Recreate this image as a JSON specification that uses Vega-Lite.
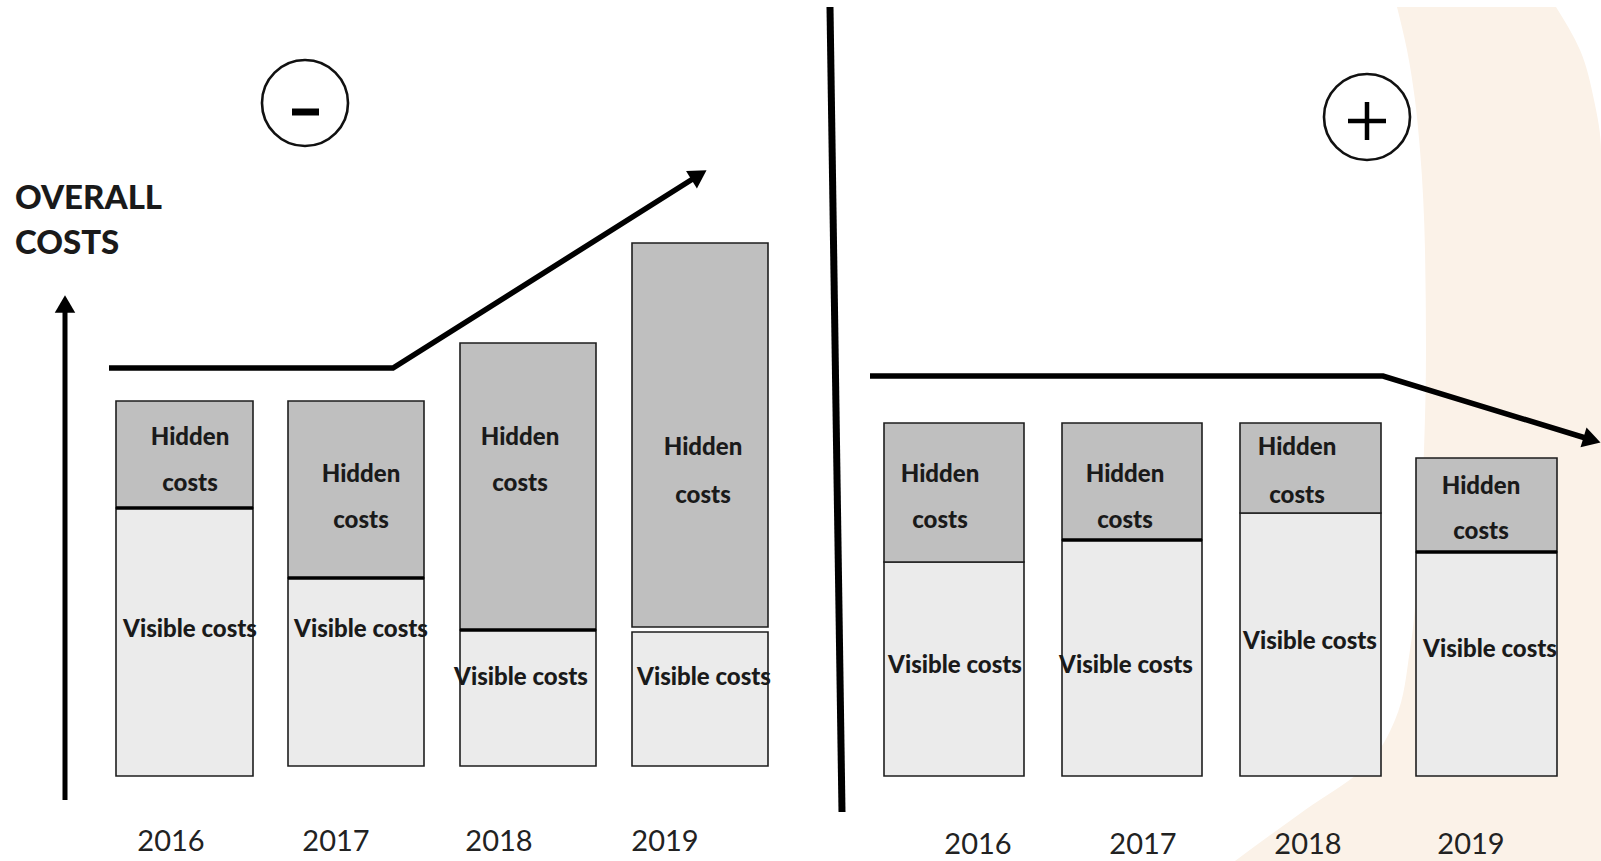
{
  "$schema": "https://vega.github.io/schema/vega-lite/v6.json",
  "width": 1601,
  "height": 861,
  "autosize": {"type": "fit", "contains": "padding"},
  "padding": 0,
  "background": "white",
  "config": {"view": {"stroke": null}},
  "datasets": {
    "beige": [
      {"y": 769, "x": 1397, "x2": 1556},
      {"y": 726, "x": 1407, "x2": 1580},
      {"y": 676, "x": 1415, "x2": 1594},
      {"y": 626, "x": 1420, "x2": 1601},
      {"y": 526, "x": 1425, "x2": 1601},
      {"y": 426, "x": 1426, "x2": 1601},
      {"y": 326, "x": 1424, "x2": 1601},
      {"y": 226, "x": 1419, "x2": 1601},
      {"y": 126, "x": 1410, "x2": 1601},
      {"y": 56, "x": 1395, "x2": 1601},
      {"y": 6, "x": 1362, "x2": 1601},
      {"y": -34, "x": 1305, "x2": 1601},
      {"y": -85, "x": 1235, "x2": 1601}
    ],
    "bars": [
      {"panel": "L", "year": "2016", "part": "Visible", "x": 116, "x2": 253, "y": 0, "y2": 268},
      {"panel": "L", "year": "2016", "part": "Hidden", "x": 116, "x2": 253, "y": 268, "y2": 375},
      {"panel": "L", "year": "2017", "part": "Visible", "x": 288, "x2": 424, "y": 10, "y2": 198},
      {"panel": "L", "year": "2017", "part": "Hidden", "x": 288, "x2": 424, "y": 198, "y2": 375},
      {"panel": "L", "year": "2018", "part": "Visible", "x": 460, "x2": 596, "y": 10, "y2": 146},
      {"panel": "L", "year": "2018", "part": "Hidden", "x": 460, "x2": 596, "y": 146, "y2": 433},
      {"panel": "L", "year": "2019", "part": "Visible", "x": 632, "x2": 768, "y": 10, "y2": 144},
      {"panel": "L", "year": "2019", "part": "Hidden", "x": 632, "x2": 768, "y": 149, "y2": 533},
      {"panel": "R", "year": "2016", "part": "Visible", "x": 884, "x2": 1024, "y": 0, "y2": 214},
      {"panel": "R", "year": "2016", "part": "Hidden", "x": 884, "x2": 1024, "y": 214, "y2": 353},
      {"panel": "R", "year": "2017", "part": "Visible", "x": 1062, "x2": 1202, "y": 0, "y2": 236},
      {"panel": "R", "year": "2017", "part": "Hidden", "x": 1062, "x2": 1202, "y": 236, "y2": 353},
      {"panel": "R", "year": "2018", "part": "Visible", "x": 1240, "x2": 1381, "y": 0, "y2": 263},
      {"panel": "R", "year": "2018", "part": "Hidden", "x": 1240, "x2": 1381, "y": 263, "y2": 353},
      {"panel": "R", "year": "2019", "part": "Visible", "x": 1416, "x2": 1557, "y": 0, "y2": 224},
      {"panel": "R", "year": "2019", "part": "Hidden", "x": 1416, "x2": 1557, "y": 224, "y2": 318}
    ],
    "splits": [
      {"x": 116, "x2": 253, "y": 268, "y2": 268},
      {"x": 288, "x2": 424, "y": 198, "y2": 198},
      {"x": 460, "x2": 596, "y": 146, "y2": 146},
      {"x": 1062, "x2": 1202, "y": 236, "y2": 236},
      {"x": 1416, "x2": 1557, "y": 224, "y2": 224}
    ],
    "labels": [
      {"x": 190, "y": 338, "t": "Hidden"}, {"x": 190, "y": 292, "t": "costs"}, {"x": 190, "y": 146, "t": "Visible costs"},
      {"x": 361, "y": 301, "t": "Hidden"}, {"x": 361, "y": 255, "t": "costs"}, {"x": 361, "y": 146, "t": "Visible costs"},
      {"x": 520, "y": 338, "t": "Hidden"}, {"x": 520, "y": 292, "t": "costs"}, {"x": 521, "y": 98, "t": "Visible costs"},
      {"x": 703, "y": 328, "t": "Hidden"}, {"x": 703, "y": 280, "t": "costs"}, {"x": 704, "y": 98, "t": "Visible costs"},
      {"x": 940, "y": 301, "t": "Hidden"}, {"x": 940, "y": 255, "t": "costs"}, {"x": 955, "y": 110, "t": "Visible costs"},
      {"x": 1125, "y": 301, "t": "Hidden"}, {"x": 1125, "y": 255, "t": "costs"}, {"x": 1126, "y": 110, "t": "Visible costs"},
      {"x": 1297, "y": 328, "t": "Hidden"}, {"x": 1297, "y": 280, "t": "costs"}, {"x": 1310, "y": 134, "t": "Visible costs"},
      {"x": 1481, "y": 289, "t": "Hidden"}, {"x": 1481, "y": 244, "t": "costs"}, {"x": 1490, "y": 126, "t": "Visible costs"}
    ],
    "years": [
      {"x": 171, "y": -66, "t": "2016"}, {"x": 336, "y": -66, "t": "2017"}, {"x": 499, "y": -66, "t": "2018"}, {"x": 665, "y": -66, "t": "2019"},
      {"x": 978, "y": -69, "t": "2016"}, {"x": 1143, "y": -69, "t": "2017"}, {"x": 1308, "y": -69, "t": "2018"}, {"x": 1471, "y": -69, "t": "2019"}
    ],
    "title": [
      {"x": 15, "y": 577, "t": "OVERALL"},
      {"x": 15, "y": 532, "t": "COSTS"}
    ],
    "trends": [
      {"series": "left", "o": 1, "x": 109, "y": 408},
      {"series": "left", "o": 2, "x": 393, "y": 408},
      {"series": "left", "o": 3, "x": 699, "y": 601},
      {"series": "right", "o": 1, "x": 870, "y": 400},
      {"series": "right", "o": 2, "x": 1383, "y": 400},
      {"series": "right", "o": 3, "x": 1592, "y": 336}
    ],
    "heads": [
      {"x": 699, "y": 601, "angle": 58},
      {"x": 1592, "y": 336, "angle": 107},
      {"x": 65, "y": 472, "angle": 0}
    ],
    "strokes": [
      {"what": "axis", "x": 65, "x2": 65, "y": -24, "y2": 472},
      {"what": "divider", "x": 830, "x2": 842, "y": 769, "y2": -36}
    ],
    "circles": [
      {"sign": "minus", "x": 305, "y": 673},
      {"sign": "plus", "x": 1367, "y": 659}
    ],
    "signs": [
      {"x": 292, "x2": 319, "y": 664, "y2": 664, "w": "minus"},
      {"x": 1348, "x2": 1386, "y": 655, "y2": 655, "w": "plus-h"},
      {"x": 1367, "x2": 1367, "y": 674, "y2": 636, "w": "plus-v"}
    ]
  },
  "encoding": {
    "x": {"field": "x", "type": "quantitative", "scale": {"domain": [0, 1601], "nice": false, "zero": false}, "axis": null},
    "y": {"field": "y", "type": "quantitative", "scale": {"domain": [-85, 776], "nice": false, "zero": false}, "axis": null}
  },
  "layer": [
    {
      "data": {"name": "beige"},
      "mark": {"type": "area", "orient": "horizontal", "interpolate": "monotone", "color": "#FBF2E8"},
      "encoding": {"x2": {"field": "x2"}}
    },
    {
      "data": {"name": "strokes"},
      "transform": [{"filter": "datum.what === 'divider'"}],
      "mark": {"type": "rule", "color": "#000", "strokeWidth": 7},
      "encoding": {"x2": {"field": "x2"}, "y2": {"field": "y2"}}
    },
    {
      "data": {"name": "bars"},
      "mark": {"type": "rect", "stroke": "#1e1e1e", "strokeWidth": 1.6},
      "encoding": {
        "x2": {"field": "x2"},
        "y2": {"field": "y2"},
        "color": {"field": "part", "type": "nominal", "scale": {"domain": ["Hidden", "Visible"], "range": ["#BFBFBF", "#EBEBEB"]}, "legend": null}
      }
    },
    {
      "data": {"name": "splits"},
      "mark": {"type": "rule", "color": "#000", "strokeWidth": 3.5},
      "encoding": {"x2": {"field": "x2"}, "y2": {"field": "y2"}}
    },
    {
      "data": {"name": "labels"},
      "mark": {"type": "text", "font": "Lato", "fontWeight": 900, "fontSize": 24, "color": "#1a1a1a", "align": "center", "baseline": "middle"},
      "encoding": {"text": {"field": "t"}}
    },
    {
      "data": {"name": "years"},
      "mark": {"type": "text", "font": "Lato", "fontSize": 29, "color": "#222", "align": "center", "baseline": "middle"},
      "encoding": {"text": {"field": "t"}}
    },
    {
      "data": {"name": "title"},
      "mark": {"type": "text", "font": "Lato", "fontWeight": 900, "fontSize": 33, "color": "#1a1a1a", "align": "left", "baseline": "middle"},
      "encoding": {"text": {"field": "t"}}
    },
    {
      "data": {"name": "trends"},
      "mark": {"type": "line", "color": "#000", "strokeWidth": 5.5, "strokeJoin": "miter", "strokeCap": "butt", "clip": true},
      "encoding": {"detail": {"field": "series"}, "order": {"field": "o"}}
    },
    {
      "data": {"name": "strokes"},
      "transform": [{"filter": "datum.what === 'axis'"}],
      "mark": {"type": "rule", "color": "#000", "strokeWidth": 5},
      "encoding": {"x2": {"field": "x2"}, "y2": {"field": "y2"}}
    },
    {
      "data": {"name": "heads"},
      "mark": {"type": "point", "shape": "triangle-up", "filled": true, "color": "#000", "size": 420, "opacity": 1, "clip": true},
      "encoding": {"angle": {"field": "angle", "type": "quantitative", "scale": null}}
    },
    {
      "data": {"name": "circles"},
      "mark": {"type": "point", "shape": "circle", "filled": false, "stroke": "#111", "strokeWidth": 2.6, "size": 7400, "opacity": 1},
      "encoding": {}
    },
    {
      "data": {"name": "signs"},
      "transform": [{"filter": "datum.w === 'minus'"}],
      "mark": {"type": "rule", "color": "#000", "strokeWidth": 7},
      "encoding": {"x2": {"field": "x2"}, "y2": {"field": "y2"}}
    },
    {
      "data": {"name": "signs"},
      "transform": [{"filter": "datum.w !== 'minus'"}],
      "mark": {"type": "rule", "color": "#000", "strokeWidth": 4.5},
      "encoding": {"x2": {"field": "x2"}, "y2": {"field": "y2"}}
    }
  ]
}
